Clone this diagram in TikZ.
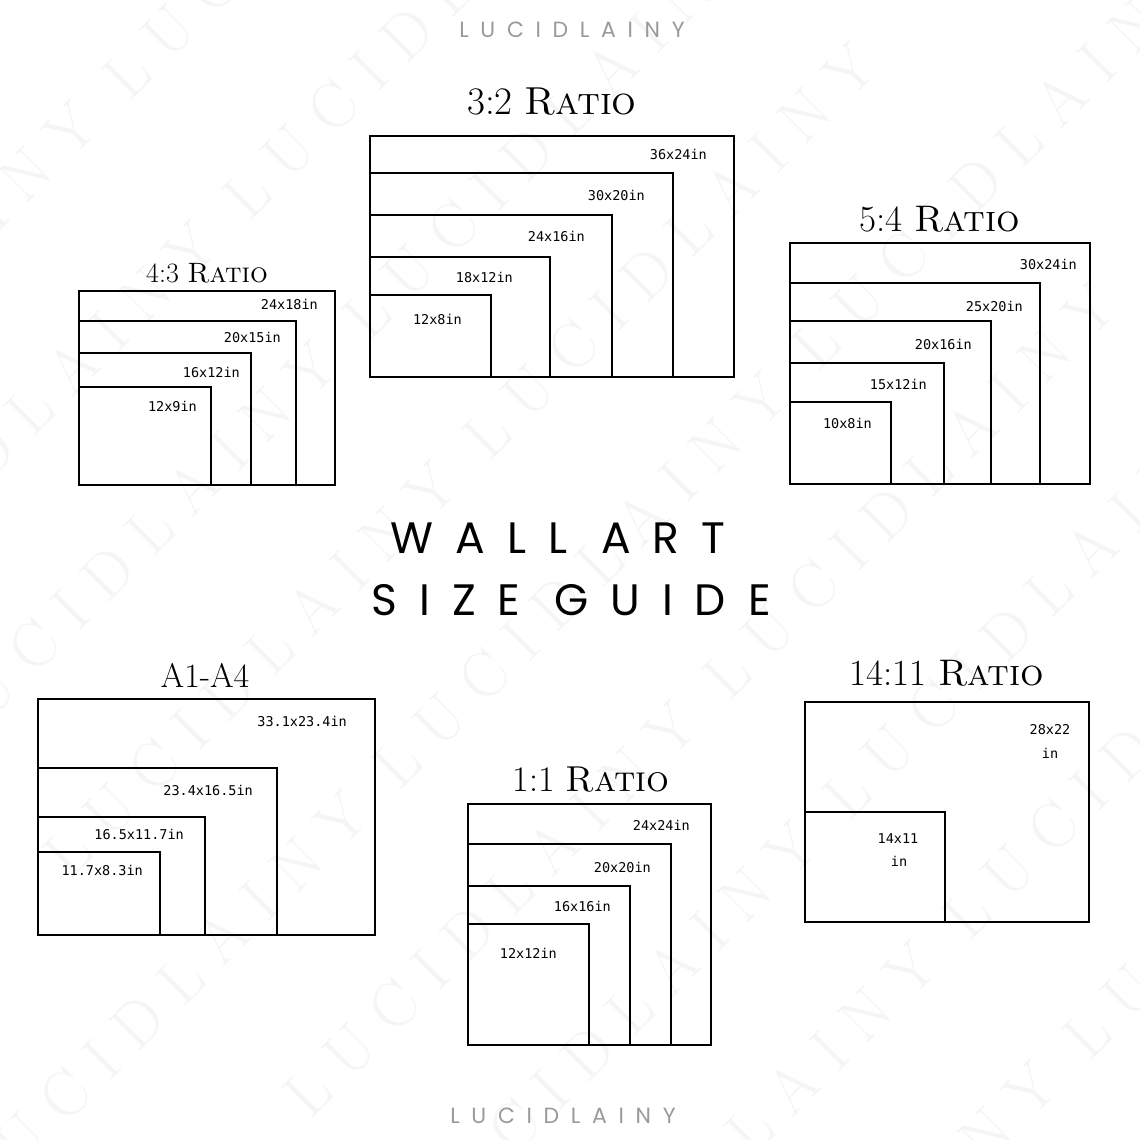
\documentclass[tikz,border=0pt]{standalone}
\usepackage{fontspec}
\newfontfamily\monof{DejaVu Sans Mono}
\newfontfamily\headf[LetterSpace=50]{Poppins}
\newfontfamily\brandf[LetterSpace=53]{Poppins}
\newfontfamily\wmarkf[LetterSpace=30]{Latin Modern Roman}
\definecolor{brandgray}{HTML}{9A9A9A}
\tikzset{
  frame/.style={draw=black,line width=2.7pt},
  sizelbl/.style={font=\monof\fontsize{13.5}{15}\selectfont, anchor=east, inner sep=0pt},
  sizectr/.style={font=\monof\fontsize{13.5}{15}\selectfont, anchor=center, inner sep=0pt},
  ttl/.style={inner sep=0pt, anchor=center},
  brand/.style={font=\brandf\fontsize{22}{24}\selectfont, text=brandgray, inner sep=0pt},
  headline/.style={font=\headf\fontsize{44}{46}\selectfont, inner sep=0pt},
  wmark/.style={font=\wmarkf\fontsize{64}{66}\selectfont, text=black!4, rotate=45, inner sep=0pt}
}
\begin{document}
\begin{tikzpicture}[x=1pt,y=-1pt]
\useasboundingbox[fill=white] (0,0) rectangle (1140,1140);

% faint diagonal watermark
\begin{scope}
\clip (0,0) rectangle (1140,1140);
\node[wmark] (wm1) at (100,100) {LUCIDLAINY LUCIDLAINY};
\node[wmark] (wm2) at (220,220) {LUCIDLAINY LUCIDLAINY};
\node[wmark] (wm3) at (340,340) {LUCIDLAINY LUCIDLAINY};
\node[wmark] (wm4) at (460,460) {LUCIDLAINY LUCIDLAINY};
\node[wmark] (wm5) at (580,580) {LUCIDLAINY LUCIDLAINY LUCIDLAINY};
\node[wmark] (wm6) at (700,700) {LUCIDLAINY LUCIDLAINY};
\node[wmark] (wm7) at (820,820) {LUCIDLAINY LUCIDLAINY};
\node[wmark] (wm8) at (940,940) {LUCIDLAINY LUCIDLAINY};
\node[wmark] (wm9) at (1060,1060) {LUCIDLAINY LUCIDLAINY};
\end{scope}

% brand
\node[brand] (brandtop) at (572,30) {LUCIDLAINY};
\node[brand] (brandbot) at (563,1116) {LUCIDLAINY};

% headline
\node[headline] (hl1) at (558,538) {WALL ART};
\node[headline] (hl2) at (571,600) {SIZE GUIDE};

% 3:2
\node[ttl, font=\fontsize{39}{40}\selectfont] (t32) at (552,102) {3:2 \textsc{Ratio}};
\draw[frame] (370,136) rectangle (734,377);
\draw[frame] (370,173) rectangle (673,377);
\draw[frame] (370,215) rectangle (612,377);
\draw[frame] (370,257) rectangle (550,377);
\draw[frame] (370,295) rectangle (491,377);
\node[sizelbl] (a1) at (707,154) {36x24in};
\node[sizelbl] (a2) at (645,195) {30x20in};
\node[sizelbl] (a3) at (585,236) {24x16in};
\node[sizelbl] (a4) at (513,277) {18x12in};
\node[sizelbl] (a5) at (462,319) {12x8in};

% 4:3
\node[ttl, font=\fontsize{28}{30}\selectfont] (t43) at (207,273) {4:3 \textsc{Ratio}};
\draw[frame] (79,291) rectangle (335,485);
\draw[frame] (79,321) rectangle (296,485);
\draw[frame] (79,353) rectangle (251,485);
\draw[frame] (79,387) rectangle (211,485);
\node[sizelbl] (b1) at (318,304) {24x18in};
\node[sizelbl] (b2) at (281,337) {20x15in};
\node[sizelbl] (b3) at (240,372) {16x12in};
\node[sizelbl] (b4) at (197,406) {12x9in};

% 5:4
\node[ttl, font=\fontsize{37}{39}\selectfont] (t54) at (940,219) {5:4 \textsc{Ratio}};
\draw[frame] (790,243) rectangle (1090,484);
\draw[frame] (790,283) rectangle (1040,484);
\draw[frame] (790,321) rectangle (991,484);
\draw[frame] (790,363) rectangle (944,484);
\draw[frame] (790,402) rectangle (891,484);
\node[sizelbl] (c1) at (1077,264) {30x24in};
\node[sizelbl] (c2) at (1023,306) {25x20in};
\node[sizelbl] (c3) at (972,344) {20x16in};
\node[sizelbl] (c4) at (927,384) {15x12in};
\node[sizelbl] (c5) at (872,423) {10x8in};

% A1-A4
\node[ttl, font=\fontsize{34}{36}\selectfont] (ta) at (205,675) {A1-A4};
\draw[frame] (38,699) rectangle (375,935);
\draw[frame] (38,768) rectangle (277,935);
\draw[frame] (38,817) rectangle (205,935);
\draw[frame] (38,852) rectangle (160,935);
\node[sizelbl] (d1) at (347,721) {33.1x23.4in};
\node[sizelbl] (d2) at (253,790) {23.4x16.5in};
\node[sizelbl] (d3) at (184,834) {16.5x11.7in};
\node[sizelbl] (d4) at (143,870) {11.7x8.3in};

% 1:1
\node[ttl, font=\fontsize{36}{38}\selectfont] (t11) at (591,780) {1:1 \textsc{Ratio}};
\draw[frame] (468,804) rectangle (711,1045);
\draw[frame] (468,844) rectangle (671,1045);
\draw[frame] (468,886) rectangle (630,1045);
\draw[frame] (468,924) rectangle (589,1045);
\node[sizelbl] (e1) at (690,825) {24x24in};
\node[sizelbl] (e2) at (651,867) {20x20in};
\node[sizelbl] (e3) at (611,906) {16x16in};
\node[sizelbl] (e4) at (557,953) {12x12in};

% 14:11
\node[ttl, font=\fontsize{37}{39}\selectfont] (t1411) at (947,673) {14:11 \textsc{Ratio}};
\draw[frame] (805,702) rectangle (1089,922);
\draw[frame] (805,812) rectangle (945,922);
\node[sizectr] (f1) at (1050,730) {28x22};
\node[sizectr] (f1b) at (1050,753) {in};
\node[sizectr] (f2) at (898,839) {14x11};
\node[sizectr] (f2b) at (899,861) {in};
\end{tikzpicture}
\end{document}
